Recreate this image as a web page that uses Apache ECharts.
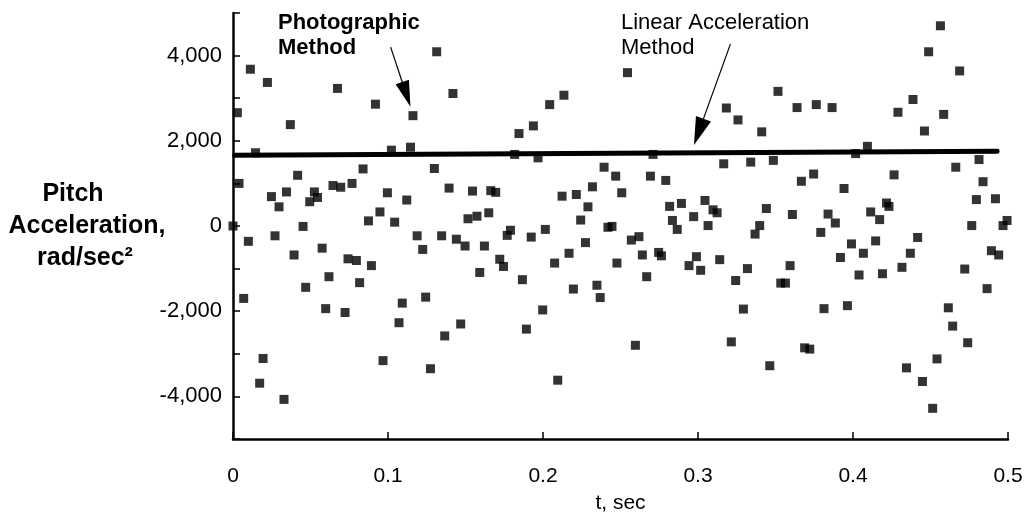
<!DOCTYPE html>
<html>
<head>
<meta charset="utf-8">
<script src="https://cdn.jsdelivr.net/npm/echarts@6/dist/echarts.min.js"></script>
<style>
  html, body { margin: 0; padding: 0; background: #fff; }
  #chart { width: 1034px; height: 524px; }
</style>
</head>
<body>
<div id="chart"></div>
<script>
// Photographic method samples: time (s) and pitch acceleration (rad/sec^2)
const timeSec = [
  0.000, 0.0028, 0.0039, 0.0069, 0.0099, 0.0112, 0.0145, 0.0172, 0.0194, 0.0222,
  0.0248, 0.0271, 0.0297, 0.0329, 0.0345, 0.0370, 0.0394, 0.0417, 0.0452, 0.0469,
  0.0495, 0.0525, 0.0545, 0.0575, 0.0598, 0.0619, 0.0645, 0.0674, 0.0695, 0.0723,
  0.0742, 0.0768, 0.0796, 0.0817, 0.0839, 0.0874, 0.0893, 0.0919, 0.0948, 0.0968,
  0.0996, 0.1022, 0.1043, 0.1071, 0.1092, 0.1121, 0.1145, 0.1161, 0.1188, 0.1224,
  0.1243, 0.1274, 0.1299, 0.1314, 0.1346, 0.1366, 0.1394, 0.1419, 0.1441, 0.1469,
  0.1497, 0.1516, 0.1545, 0.1574, 0.1592, 0.1622, 0.1650, 0.1663, 0.1695, 0.1721,
  0.1745, 0.1769, 0.1790, 0.1817, 0.1845, 0.1867, 0.1893, 0.1924, 0.1938, 0.1968,
  0.1998, 0.2015, 0.2043, 0.2075, 0.2095, 0.2123, 0.2135, 0.2168, 0.2196, 0.2215,
  0.2243, 0.2274, 0.2290, 0.2319, 0.2348, 0.2369, 0.2394, 0.2419, 0.2445, 0.2469,
  0.2477, 0.2508, 0.2545, 0.2570, 0.2596, 0.2619, 0.2641, 0.2669, 0.2693, 0.2710,
  0.2746, 0.2764, 0.2792, 0.2817, 0.2835, 0.2866, 0.2893, 0.2942, 0.2972, 0.2990,
  0.3017, 0.3045, 0.3065, 0.3097, 0.3123, 0.3140, 0.3166, 0.3183, 0.3215, 0.3243,
  0.3258, 0.3293, 0.3319, 0.3340, 0.3368, 0.3398, 0.3411, 0.3441, 0.3463, 0.3486,
  0.3516, 0.3534, 0.3564, 0.3594, 0.3609, 0.3639, 0.3667, 0.3688, 0.3721, 0.3746,
  0.3763, 0.3792, 0.3813, 0.3839, 0.3865, 0.3886, 0.3919, 0.3942, 0.3964, 0.3990,
  0.4017, 0.4039, 0.4067, 0.4093, 0.4114, 0.4146, 0.4172, 0.4190, 0.4216, 0.4232,
  0.4265, 0.4290, 0.4316, 0.4345, 0.4370, 0.4387, 0.4417, 0.4448, 0.4461, 0.4488,
  0.4514, 0.4542, 0.4564, 0.4585, 0.4615, 0.4643, 0.4663, 0.4688, 0.4721, 0.4740,
  0.4766, 0.4796, 0.4813, 0.4839, 0.4865, 0.4893, 0.4919, 0.4940, 0.4968, 0.4994
];
const pitchAccel = [
  0, 2660, 1000, -1700, -360, 3680, 1720, -3690, -3110, 3370,
  690, -230, 450, -4070, 800, 2380, -680, 1190, -10, -1440,
  570, 800, 670, -520, -1940, -1190, 950, 3230, 910, -2030,
  -770, 1000, -810, -1330, 1340, 120, -930, 2860, 330, -3160,
  780, 1780, 90, -2270, -1810, 610, 1850, 2590, -230, -550,
  -1670, -3350, 1350, 4090, -230, -2580, 890, 3110, -310, -2300,
  -470, 170, 820, 230, -1090, -470, 310, 830, 790, -780,
  -950, -220, -100, 1680, 2170, -1260, -2420, -260, 2350, 1600,
  -1970, -80, 2850, -870, -3620, 700, 3070, -640, -1480, 740,
  140, -390, 450, 920, -1390, -1680, 1380, -30, -10, 1170,
  -870, 780, 3600, -330, -2800, -250, -680, -1190, 1170, 1680,
  -620, -700, 1070, 460, 130, -80, 530, -930, 220, -720,
  -1040, 600, 10, 380, 310, -790, 1460, 2770, -2720, -1280,
  2490, -1950, -1000, 1500, -190, 10, 2210, 410, -3280, 1540,
  3160, -1340, -1340, -930, 270, 2780, 1050, -2860, -2890, 1220,
  2850, -150, -1940, 280, 2780, 70, -740, 880, -1870, -420,
  1700, -1150, -640, 1870, 330, -350, 150, -1120, 540, 460,
  1200, 2670, -970, -3330, -640, 2970, -270, -3650, 2230, 4090,
  -4280, -3120, 4700, 2620, -1920, -2350, 1380, 3640, -1010, -2740,
  10, 620, 1560, 1040, -1470, -580, 640, -680, 10, 130
];

// Linear acceleration method: straight fit across the record
const linearMethodTime = [0.001, 0.493];
const linearMethodAccel = [1660, 1755];

// Axis ranges and steps
const xRange = [0, 0.5];
const xStep = 0.1;
const yRange = [-5000, 5000];
const yStep = 1000;
const yLabelStep = 2000;

// Annotation arrows, anchored in data units [t, accel]
const photoArrow = { tail: [0.1017, 4200], tip: [0.1145, 2800] };
const linearArrow = { tail: [0.3209, 4270], tip: [0.2974, 1900] };

const FONT = '"Liberation Sans", Arial, Helvetica, sans-serif';
const INK = '#000';

const chart = echarts.init(document.getElementById('chart'), null, { renderer: 'canvas' });

chart.setOption({
  animation: false,
  backgroundColor: '#fff',
  grid: {
    left: 233, right: 26, top: 13, bottom: 85,
    containLabel: false,
    outerBoundsMode: 'none'
  },
  xAxis: {
    type: 'value',
    min: xRange[0], max: xRange[1], interval: xStep,
    name: 't, sec',
    nameLocation: 'middle',
    nameGap: 54,
    nameTextStyle: { fontFamily: FONT, fontSize: 21, color: INK },
    axisLine: { show: true, onZero: false, lineStyle: { color: INK, width: 2.5 } },
    axisTick: { show: true, inside: true, length: 7, lineStyle: { color: INK, width: 1.5 } },
    axisLabel: {
      margin: 27,
      fontFamily: FONT, fontSize: 21, color: INK,
      formatter: v => (Math.abs(v) < 1e-9 ? '0' : v.toFixed(1))
    },
    splitLine: { show: false }
  },
  yAxis: {
    type: 'value',
    min: yRange[0], max: yRange[1], interval: yStep,
    axisLine: { show: true, onZero: false, lineStyle: { color: INK, width: 2.5 } },
    axisTick: { show: true, inside: true, length: 7, lineStyle: { color: INK, width: 1.5 } },
    axisLabel: {
      margin: 11,
      fontFamily: FONT, fontSize: 22, color: INK,
      formatter: v => (Math.round(v) % yLabelStep === 0 ? Math.round(v).toLocaleString('en-US') : '')
    },
    splitLine: { show: false }
  },
  series: [
    {
      name: 'Linear Acceleration Method',
      type: 'line',
      data: linearMethodTime.map((t, i) => [t, linearMethodAccel[i]]),
      symbol: 'none',
      lineStyle: { color: INK, width: 5, cap: 'round' },
      z: 2
    },
    {
      name: 'Photographic Method',
      type: 'scatter',
      data: timeSec.map((t, i) => [t, pitchAccel[i]]),
      symbol: 'rect',
      symbolSize: 9,
      itemStyle: { color: INK },
      z: 3
    }
  ]
});

// Arrow made of a thin shaft and a filled triangular head
function arrowShapes(spec, headLen, halfW) {
  const tail = chart.convertToPixel({ gridIndex: 0 }, spec.tail);
  const tip = chart.convertToPixel({ gridIndex: 0 }, spec.tip);
  const dx = tip[0] - tail[0], dy = tip[1] - tail[1];
  const len = Math.hypot(dx, dy);
  const ux = dx / len, uy = dy / len;
  const bx = tip[0] - ux * headLen, by = tip[1] - uy * headLen;
  const nx = -uy, ny = ux;
  return [
    {
      type: 'line',
      shape: { x1: tail[0], y1: tail[1], x2: bx + ux * 2, y2: by + uy * 2 },
      style: { stroke: INK, lineWidth: 1.2 },
      z: 10
    },
    {
      type: 'polygon',
      shape: { points: [tip, [bx + nx * halfW, by + ny * halfW], [bx - nx * halfW, by - ny * halfW]] },
      style: { fill: INK },
      z: 10
    }
  ];
}

chart.setOption({
  graphic: [
    // y-axis title, one line per element
    { type: 'text', x: 73, y: 194, z: 10,
      style: { text: 'Pitch', font: 'bold 25px ' + FONT, fill: INK, textAlign: 'center', textVerticalAlign: 'middle' } },
    { type: 'text', x: 87, y: 226, z: 10,
      style: { text: 'Acceleration,', font: 'bold 25px ' + FONT, fill: INK, textAlign: 'center', textVerticalAlign: 'middle' } },
    { type: 'text', x: 85, y: 258, z: 10,
      style: { text: 'rad/sec²', font: 'bold 25px ' + FONT, fill: INK, textAlign: 'center', textVerticalAlign: 'middle' } },
    // callouts
    { type: 'text', x: 278, y: 10, z: 10,
      style: { text: 'Photographic\nMethod', font: 'bold 22px ' + FONT, lineHeight: 25, fill: INK, textAlign: 'left', textVerticalAlign: 'top' } },
    { type: 'text', x: 621, y: 10, z: 10,
      style: { text: 'Linear Acceleration\nMethod', font: '22px ' + FONT, lineHeight: 25, fill: INK, textAlign: 'left', textVerticalAlign: 'top' } },
    ...arrowShapes(photoArrow, 26, 7),
    ...arrowShapes(linearArrow, 28, 8)
  ]
});
</script>
</body>
</html>
